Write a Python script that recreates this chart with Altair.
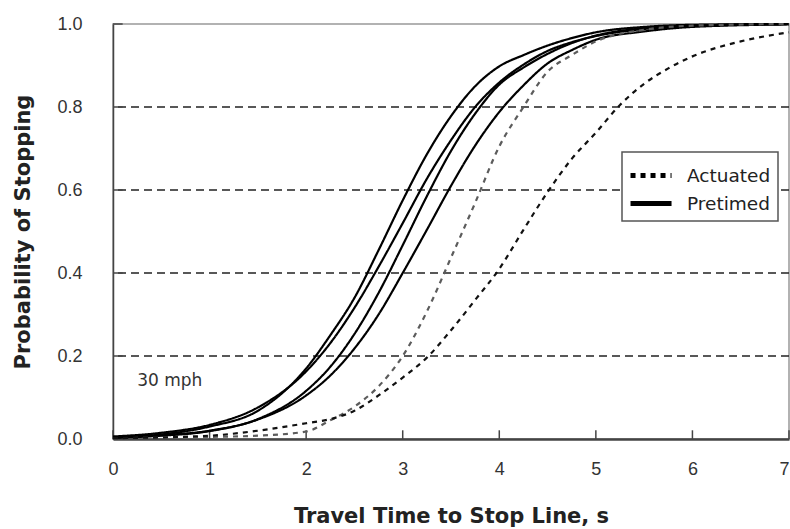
import altair as alt
import pandas as pd

# ---- data ----
x_pre = [0, 0.5, 1, 1.5, 2, 2.25, 2.5, 2.75, 3, 3.25, 3.5, 3.75, 4, 4.25, 4.5, 4.75, 5, 5.5, 6, 7]
pre1 = [0.004, 0.011, 0.030, 0.068, 0.170, 0.250, 0.340, 0.455, 0.575, 0.686, 0.778, 0.850, 0.898, 0.925, 0.948, 0.966, 0.980, 0.993, 0.998, 1.0]
pre2 = [0.006, 0.015, 0.034, 0.076, 0.163, 0.231, 0.316, 0.415, 0.520, 0.627, 0.720, 0.800, 0.859, 0.902, 0.935, 0.956, 0.971, 0.988, 0.995, 1.0]
pre3 = [0.003, 0.008, 0.019, 0.048, 0.116, 0.174, 0.253, 0.352, 0.467, 0.585, 0.694, 0.784, 0.854, 0.895, 0.928, 0.954, 0.972, 0.990, 0.996, 1.0]
pre4 = [0.004, 0.009, 0.020, 0.047, 0.105, 0.153, 0.218, 0.300, 0.400, 0.504, 0.610, 0.707, 0.788, 0.852, 0.905, 0.937, 0.962, 0.982, 0.993, 0.999]

x_act1 = [0, 1, 1.5, 2, 2.25, 2.5, 2.75, 3, 3.25, 3.5, 3.75, 4, 4.25, 4.5, 4.75, 5, 5.5, 6, 7]
act1 = [0.002, 0.005, 0.008, 0.018, 0.045, 0.078, 0.127, 0.200, 0.307, 0.437, 0.569, 0.705, 0.800, 0.885, 0.925, 0.958, 0.986, 0.996, 1.0]

x_act2 = [0, 1, 1.5, 2, 2.25, 2.5, 2.75, 3, 3.25, 3.5, 3.75, 4, 4.25, 4.5, 4.75, 5, 5.25, 5.5, 5.75, 6, 6.5, 7]
act2 = [0.002, 0.008, 0.020, 0.038, 0.048, 0.068, 0.105, 0.148, 0.196, 0.262, 0.335, 0.410, 0.504, 0.595, 0.675, 0.738, 0.805, 0.856, 0.893, 0.922, 0.958, 0.980]

series_names = ["P1", "P2", "P3", "P4", "A1", "A2"]
series_colors = ["#000000", "#000000", "#000000", "#000000", "#5c5c5c", "#111111"]
series_widths = [2.2, 2.2, 2.2, 2.2, 3.4, 3.4]

x_ticks = [0, 1, 2, 3, 4, 5, 6, 7]
y_ticks = [0.0, 0.2, 0.4, 0.6, 0.8, 1.0]
grid_y = [0.2, 0.4, 0.6, 0.8]

note_text = ["30 mph"]
note_x = [0.25]
note_y = [0.14]

# ---- build tables ----
rows = []
for name, typ, xs, ys in [
    ("P1", "Pretimed", x_pre, pre1),
    ("P2", "Pretimed", x_pre, pre2),
    ("P3", "Pretimed", x_pre, pre3),
    ("P4", "Pretimed", x_pre, pre4),
    ("A1", "Actuated", x_act1, act1),
    ("A2", "Actuated", x_act2, act2),
]:
    for i, (xv, yv) in enumerate(zip(xs, ys)):
        rows.append({"series": name, "type": typ, "t": xv, "p": yv, "i": i})
df = pd.DataFrame(rows)

xscale = alt.Scale(domain=[0, 7], nice=False, zero=False)
yscale = alt.Scale(domain=[0, 1], nice=False, zero=False)

x_axis = alt.Axis(
    values=x_ticks, format="d", ticks=False, grid=False,
    labelFont="Liberation Sans", labelFontSize=18, labelColor="#333333",
    labelPadding=21, labelFlush=False,
    labelAlign=alt.condition("datum.value == 7", alt.value("right"), alt.value("center")),
    domainColor="#444444", domainWidth=2.5,
    title="Travel Time to Stop Line, s", titleFont="DejaVu Sans",
    titleFontSize=21, titleFontWeight="bold", titleColor="#222222",
    titlePadding=27,
)
y_axis = alt.Axis(
    values=y_ticks, format=".1f", ticks=False, grid=False,
    labelFont="Liberation Sans", labelFontSize=18, labelColor="#333333",
    labelPadding=31, labelFlush=False,
    domainColor="#444444", domainWidth=1.5,
    title="Probability of Stopping", titleFont="DejaVu Sans",
    titleFontSize=21, titleFontWeight="bold", titleColor="#222222",
    titlePadding=23,
)

grid = alt.Chart(pd.DataFrame({"g": grid_y})).mark_rule(
    color="#222222", strokeWidth=1.3, strokeDash=[8, 5]
).encode(y=alt.Y("g:Q", scale=yscale, axis=y_axis))

xt = pd.DataFrame({"t": x_ticks, "y0": [0.0] * len(x_ticks), "y1": [0.021] * len(x_ticks)})
xtick_layer = alt.Chart(xt).mark_rule(color="#444444", strokeWidth=1.5).encode(
    x=alt.X("t:Q", scale=xscale, axis=x_axis),
    y=alt.Y("y0:Q", scale=yscale),
    y2="y1:Q",
)
yt = pd.DataFrame({"p": y_ticks, "x0": [0.0] * len(y_ticks), "x1": [0.1] * len(y_ticks)})
ytick_layer = alt.Chart(yt).mark_rule(color="#444444", strokeWidth=1.5).encode(
    y=alt.Y("p:Q", scale=yscale),
    x=alt.X("x0:Q", scale=xscale),
    x2="x1:Q",
)

lines = alt.Chart(df).mark_line(interpolate="monotone", strokeCap="butt").encode(
    x=alt.X("t:Q", scale=xscale),
    y=alt.Y("p:Q", scale=yscale),
    order="i:Q",
    color=alt.Color("series:N", scale=alt.Scale(domain=series_names, range=series_colors), legend=None),
    strokeWidth=alt.StrokeWidth("series:N", scale=alt.Scale(domain=series_names, range=series_widths), legend=None),
    strokeDash=alt.StrokeDash(
        "type:N",
        scale=alt.Scale(domain=["Actuated", "Pretimed"], range=[[5, 5], [1, 0]]),
        legend=alt.Legend(
            title=None, orient="none", legendX=509, legendY=128,
            strokeColor="#555555", fillColor="white", padding=7,
            symbolType="M-1.07,0H1.86", symbolSize=784, symbolStrokeWidth=5,
            symbolStrokeColor="black",
            labelFont="DejaVu Sans", labelFontSize=18.5, labelColor="#222222",
            labelOffset=25, rowPadding=1,
            labelExpr="datum.label + '  '",
        ),
    ),
)

note = alt.Chart(pd.DataFrame({"t": note_x, "p": note_y, "s": note_text})).mark_text(
    align="left", baseline="middle", font="DejaVu Sans", fontSize=17, color="#333333"
).encode(x=alt.X("t:Q", scale=xscale), y=alt.Y("p:Q", scale=yscale), text="s:N")

chart = alt.layer(grid, xtick_layer, ytick_layer, lines, note).properties(
    width=676, height=415,
    autosize=alt.AutoSizeParams(type="none"),
    padding={"left": 113, "top": 24, "right": 1, "bottom": 90},
    background="white",
).configure_view(stroke="#999999", strokeWidth=1.5).configure_legend(strokeWidth=1.5)

chart.save("out.html", embed_options={"renderer": "svg", "actions": False})
